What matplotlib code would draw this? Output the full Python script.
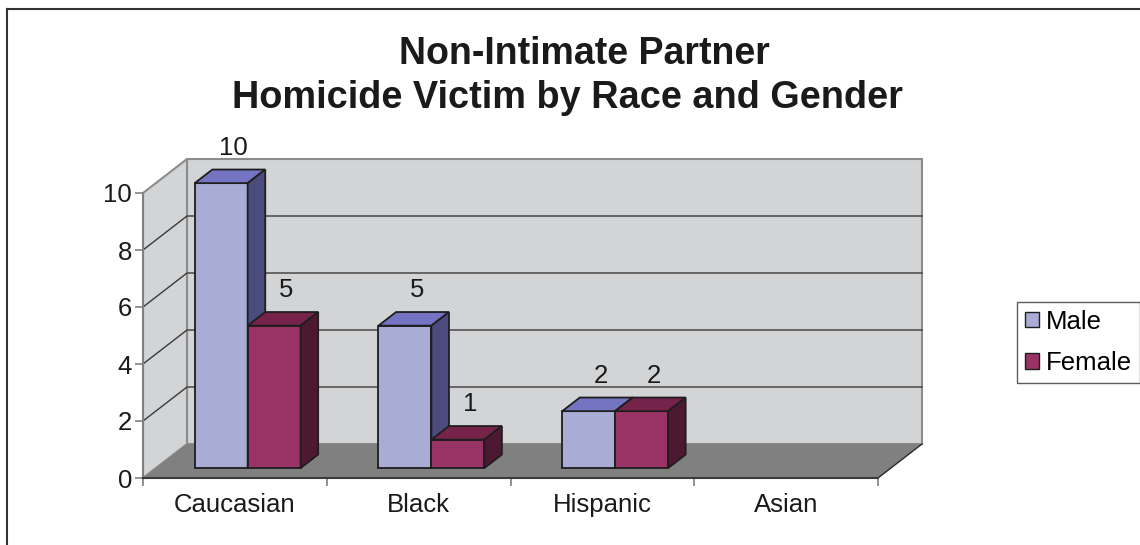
"""Non-intimate partner homicide victims by race and gender, Excel-style 3D columns."""

import matplotlib

matplotlib.use("Agg")
import matplotlib.pyplot as plt
from matplotlib.lines import Line2D
from matplotlib.patches import Patch, Polygon

categories = ["Caucasian", "Black", "Hispanic", "Asian"]
series_names = ["Male", "Female"]
male = [10, 5, 2, 0]
female = [5, 1, 2, 0]
y_ticks = [0, 2, 4, 6, 8, 10]

FRONT = {"Male": "#A9ADD6", "Female": "#993366"}
TOP = {"Male": "#7474C2", "Female": "#76234C"}
SIDE = {"Male": "#4B4B7E", "Female": "#4D1832"}
WALL = "#D3D4D6"
FLOOR = "#808080"
EDGE = "#1E1E1E"
FONT = "Liberation Sans"
FS = 18.5

# depth offset of the 3D box, in data units (x: categories, y: values)
DX, DY = 0.2395, 1.193
Z0, Z1 = 0.29, 0.69
BAR_W = 0.288
Y_MAX = 10


def proj(x, y, z):
    return x + z * DX, y + z * DY


W, H = 1140, 545
fig = plt.figure(figsize=(W / 100, H / 100), dpi=100)
px_x, px_y = 183.75, 28.5
x_lim, y_lim = 4.4, 11.6
ax = fig.add_axes([143 / W, (H - 478) / H, x_lim * px_x / W, y_lim * px_y / H])
ax.set_xlim(0, x_lim)
ax.set_ylim(0, y_lim)
ax.patch.set_alpha(0)

n = len(categories)
# walls and floor
back = [proj(0, 0, 1), proj(n, 0, 1), proj(n, Y_MAX, 1), proj(0, Y_MAX, 1)]
side = [proj(0, 0, 0), proj(0, 0, 1), proj(0, Y_MAX, 1), proj(0, Y_MAX, 0)]
floor = [proj(0, 0, 0), proj(n, 0, 0), proj(n, 0, 1), proj(0, 0, 1)]
ax.add_patch(Polygon(back, closed=True, fc=WALL, ec="#8C8C8C", lw=1.5, zorder=1))
ax.add_patch(Polygon(side, closed=True, fc=WALL, ec="#8C8C8C", lw=1.5, zorder=1))
for v in y_ticks[1:-1]:
    xs, ys = zip(proj(0, v, 0), proj(0, v, 1), proj(n, v, 1))
    ax.plot(xs, ys, color="#3A3A3A", lw=1, zorder=2)
ax.add_patch(Polygon(floor, closed=True, fc=FLOOR, ec="none", zorder=3))
xs, ys = zip(proj(n, 0, 0), proj(n, 0, 1))
ax.plot(xs, ys, color="#2A2A2A", lw=1, zorder=3)

# bars
for i, cat in enumerate(categories):
    left = i + 0.5 - BAR_W
    for j, (name, values) in enumerate(zip(series_names, [male, female])):
        v = values[i]
        if v <= 0:
            continue
        xl = left + j * BAR_W
        xr = xl + BAR_W
        fx, fy = proj(xl, 0, Z0)
        ax.bar(fx, v, BAR_W, bottom=fy, align="edge", color=FRONT[name],
               edgecolor=EDGE, lw=1.3, zorder=5)
        top = [proj(xl, v, Z0), proj(xr, v, Z0), proj(xr, v, Z1), proj(xl, v, Z1)]
        ax.add_patch(Polygon(top, closed=True, fc=TOP[name], ec=EDGE, lw=1.3, zorder=5))
        rside = [proj(xr, 0, Z0), proj(xr, 0, Z1), proj(xr, v, Z1), proj(xr, v, Z0)]
        ax.add_patch(Polygon(rside, closed=True, fc=SIDE[name], ec=EDGE, lw=1.3, zorder=5))
        lx, ly = proj(xl + BAR_W / 2, v, Z0)
        ax.text(lx + 0.065, ly + 1.25, str(v), ha="center", va="center",
                fontsize=FS, family=FONT, color="#1A1A1A", zorder=6)

# axes
for s in ["top", "right"]:
    ax.spines[s].set_visible(False)
for s in ["left", "bottom"]:
    ax.spines[s].set_color("#808080")
    ax.spines[s].set_linewidth(1.5)
    ax.spines[s].set_zorder(4)
ax.spines["left"].set_bounds(0, Y_MAX)
ax.spines["bottom"].set_bounds(0, n)
ax.spines["bottom"].set_color("#3A3A3A")

ax.set_yticks(y_ticks)
ax.set_yticklabels([str(t) for t in y_ticks], fontsize=FS, family=FONT, color="#1A1A1A")
ax.tick_params(axis="y", length=6, width=1.2, color="#808080", pad=2)
ax.set_xticks(range(n + 1))
ax.set_xticklabels([""] * (n + 1))
ax.set_xticks([i + 0.5 for i in range(n)], minor=True)
ax.set_xticklabels(categories, minor=True, fontsize=FS, family=FONT, color="#1A1A1A")
ax.tick_params(axis="x", which="major", length=6, width=1.2, color="#808080")
ax.tick_params(axis="x", which="minor", length=0, pad=11)

# title
fig.text(584 / W, 1 - 54 / H, "Non-Intimate Partner", ha="center", va="center",
         fontsize=27, fontweight="bold", family=FONT, color="#1A1A1A")
fig.text(568 / W, 1 - 98 / H, "Homicide Victim by Race and Gender", ha="center", va="center",
         fontsize=27.3, fontweight="bold", family=FONT, color="#1A1A1A")

# legend
handles = [Patch(fc=FRONT[s], ec=EDGE, lw=1) for s in series_names]
leg = fig.legend(handles, series_names, loc="upper left",
                 bbox_to_anchor=(1017 / W, 1 - 302 / H), borderaxespad=0,
                 prop={"family": FONT, "size": FS}, fancybox=False,
                 handlelength=0.55, handleheight=0.55, handletextpad=0.28,
                 borderpad=0.3, labelspacing=0.68, edgecolor="#333333")
leg.get_frame().set_linewidth(1)

# chart border (open at right and bottom)
fig.add_artist(Line2D([6.5 / W, 1], [1 - 8.5 / H, 1 - 8.5 / H], color="#333333", lw=1.5))
fig.add_artist(Line2D([6.5 / W, 6.5 / W], [0, 1 - 8.5 / H], color="#333333", lw=1.5))

fig.savefig("out.png", dpi=100)
